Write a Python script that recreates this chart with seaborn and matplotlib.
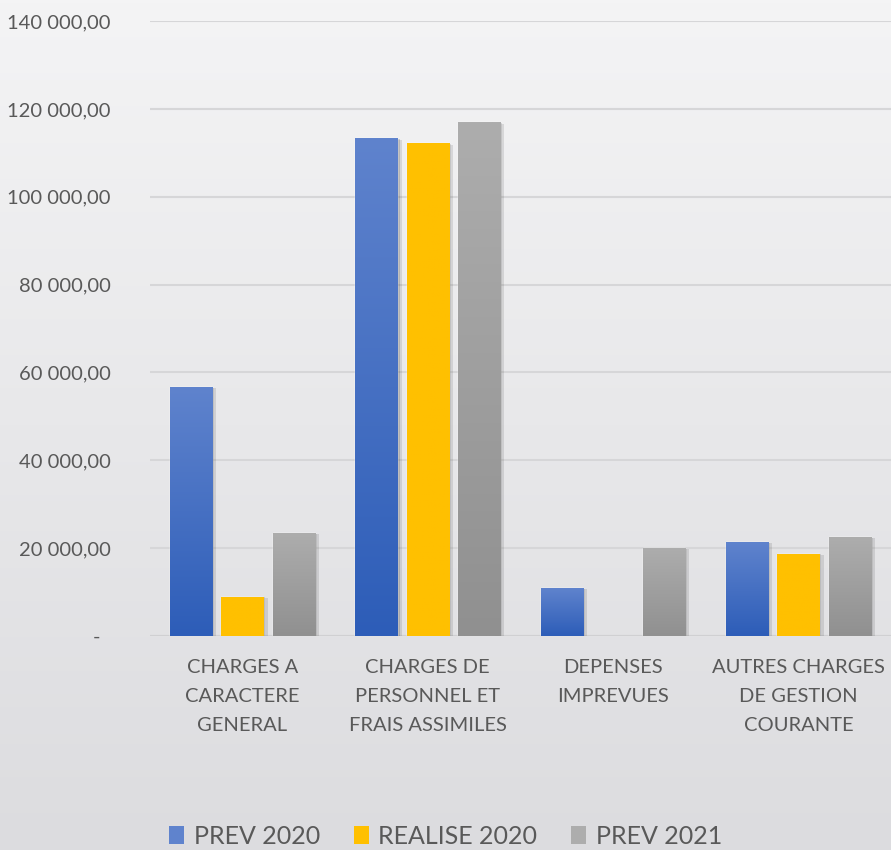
import numpy as np
import pandas as pd
import matplotlib
matplotlib.use("Agg")
import matplotlib.pyplot as plt
import matplotlib.patheffects as pe
from matplotlib.colors import LinearSegmentedColormap
from matplotlib.patches import Patch
import seaborn as sns

# data
categories = [
    "CHARGES A\nCARACTERE\nGENERAL",
    "CHARGES DE\nPERSONNEL ET\nFRAIS ASSIMILES",
    "DEPENSES\nIMPREVUES",
    "AUTRES CHARGES\nDE GESTION\nCOURANTE",
]
series = ["PREV 2020", "REALISE 2020", "PREV 2021"]
prev_2020 = [56700, 113300, 10900, 21400]
realise_2020 = [8900, 112200, 0, 18700]
prev_2021 = [23400, 117000, 20000, 22500]

# gradient (top, bottom) per series
grad_colors = {
    "PREV 2020": ("#5F83CD", "#2D5DB8"),
    "REALISE 2020": ("#FFC000", "#FFC000"),
    "PREV 2021": ("#ADADAD", "#909090"),
}
text_color = "#595959"

df = pd.DataFrame({
    "category": categories * 3,
    "series": [s for s in series for _ in categories],
    "value": prev_2020 + realise_2020 + prev_2021,
})

sns.set_style("white")
plt.rcParams["font.family"] = ["Lato", "DejaVu Sans"]

fig = plt.figure(figsize=(8.91, 8.5), dpi=100)

# background gradient
bg = fig.add_axes([0, 0, 1, 1], zorder=-10)
bg_cmap = LinearSegmentedColormap.from_list("bg", ["#F4F4F5", "#DCDCDF"])
bg.imshow(np.linspace(0, 1, 256).reshape(-1, 1), aspect="auto", cmap=bg_cmap,
          extent=[0, 1, 0, 1])
bg.set_axis_off()

ax = fig.add_axes([0.168, 0.252, 0.832, 0.723])
ax.set_facecolor("none")

sns.barplot(data=df, x="category", y="value", hue="series", order=categories,
            hue_order=series, width=0.83, gap=0.18, ax=ax, legend=False,
            palette=[grad_colors[s][1] for s in series])

# replace flat bars with vertical gradients
grad = np.linspace(0, 1, 256).reshape(-1, 1)
for i, patch in enumerate(list(ax.patches)):
    s = series[i // len(categories)]
    x0, y0 = patch.get_x(), patch.get_y()
    w, h = patch.get_width(), patch.get_height()
    if h <= 0:
        patch.set_visible(False)
        continue
    patch.set_path_effects([
        pe.SimplePatchShadow(offset=(3, -1), shadow_rgbFace="#000000", alpha=0.10),
        pe.SimplePatchShadow(offset=(1.5, -0.5), shadow_rgbFace="#000000", alpha=0.15),
        pe.Normal(),
    ])
    cmap = LinearSegmentedColormap.from_list("g", [grad_colors[s][0], grad_colors[s][1]])
    im = ax.imshow(grad, aspect="auto", cmap=cmap, extent=[x0, x0 + w, y0, y0 + h],
                   origin="upper", zorder=3)
    im.set_clip_path(patch)
    patch.set_zorder(2)

ax.set_xlim(-0.5, 3.5)
ax.set_ylim(0, 140000)
ax.set_yticks(np.arange(0, 140001, 20000))


def fmt(v, pos):
    if v == 0:
        return "-  "
    return f"{v:,.2f}".replace(",", " ").replace(".", ",")


ax.yaxis.set_major_formatter(plt.FuncFormatter(fmt))
ax.grid(axis="y", color="#D6D6D8", linewidth=1.5, zorder=0)
ax.set_axisbelow(True)
for sp in ax.spines.values():
    sp.set_visible(False)
ax.axhline(0, color="#D0D0D2", linewidth=1.5, zorder=1)

ax.tick_params(axis="y", length=0, pad=28, labelsize=14.5, labelcolor=text_color)
ax.tick_params(axis="x", length=0, pad=17, labelsize=14.5, labelcolor=text_color)
for lbl in ax.get_xticklabels():
    lbl.set_linespacing(1.85)
ax.set_xlabel("")
ax.set_ylabel("")

handles = [Patch(facecolor=grad_colors[s][0], edgecolor="none") for s in series]
fig.legend(handles, series, loc="lower center", bbox_to_anchor=(0.5, -0.024), ncol=3,
           frameon=False, fontsize=18, labelcolor=text_color, handlelength=0.6,
           handleheight=0.75, handletextpad=0.4, columnspacing=1.35)

fig.savefig("out.png", dpi=100)
plt.close(fig)
